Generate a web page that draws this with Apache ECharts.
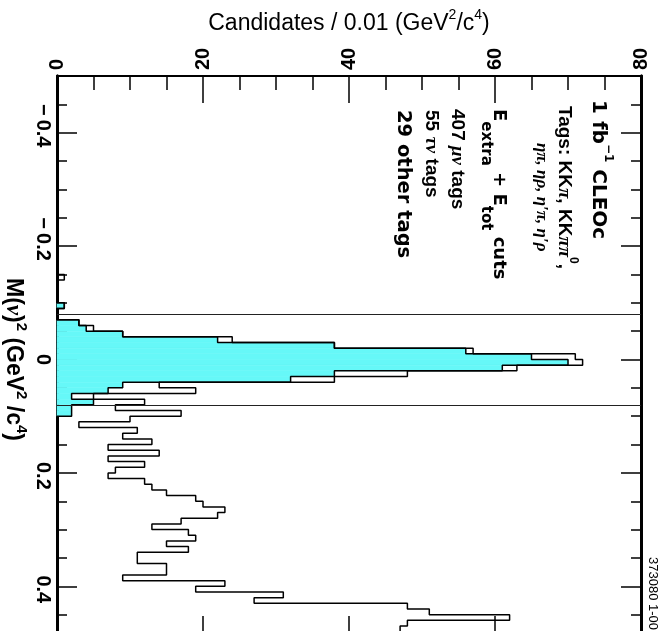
<!DOCTYPE html>
<html>
<head>
<meta charset="utf-8">
<title>M(ν)² distribution</title>
<script src="https://cdn.jsdelivr.net/npm/echarts@6.0.0/dist/echarts.min.js"></script>
<style>
  html, body { margin: 0; padding: 0; background: #fff; overflow: hidden; }
  #chart { width: 665px; height: 631px; }
</style>
</head>
<body>
<div id="chart"></div>
<script>
// Missing-mass-squared spectrum, 0.01 GeV^2/c^4 bins, starting at FIRST_BIN_EDGE.
const BIN_WIDTH = 0.01;
const FIRST_BIN_EDGE = -0.15;

// Candidates per bin, all tag modes (open histogram).
const allTagCounts = [
  1, 0, 0, 0, 0, 1, 0, 0,
  3, 5, 9, 24, 38, 57, 71, 72, 63, 48, 38, 14, 19, 5, 12, 8, 17, 10, 3,
  11, 9, 13, 7, 14, 7, 12, 8, 7, 12, 13, 15, 19, 20, 23, 22, 17, 13, 18,
  19, 15, 18, 11, 11, 15, 15, 9, 23, 19, 31, 27, 48, 51, 62, 48, 47
];

// Candidates per bin, mu-nu tags (filled histogram).
const muNuCounts = [
  0, 0, 0, 0, 0, 1, 0, 0,
  3, 4, 9, 22, 38, 56, 65, 70, 61, 38, 32, 9, 7, 2, 5, 2, 2
];

// Signal window on M(nu)^2.
const signalWindow = [-0.083, 0.083];

// Axis ranges and tick labels.
const candidateTicks = [0, 20, 40, 60, 80];
const massRange = [-0.5, 0.5];
const massTicks = [-0.4, -0.2, 0, 0.2, 0.4];
const massMinorStep = 0.05;

// Legend block, one entry per printed line.
const legendLines = [
  '1 fb{sup|\u22121} CLEOc',
  'Tags: KK{gk|\u03c0}, KK{gk|\u03c0\u03c0}{sup|0},',
  '{gk2|\u03b7\u03c0, \u03b7\u03c1, \u03b7\u2032\u03c0, \u03b7\u2032\u03c1}',
  'E{sub|extra} + E{sub|tot} cuts',
  '407 {gk|\u03bc\u03bd} tags',
  '55 {gk|\u03c4\u03bd} tags',
  '29 other tags'
];
const plotCode = '373080 1-00';

const F = '"Liberation Sans", Arial, Helvetica, sans-serif';
const W = '"DejaVu Sans", "Liberation Sans", sans-serif';
const G = '"Liberation Serif", "DejaVu Serif", serif';
const INK = '#000';
const CYAN = '#66f8f8';

function binLow(i) { return FIRST_BIN_EDGE + i * BIN_WIDTH; }

// Step outline of a histogram drawn along the vertical mass axis.
function stepOutline(counts) {
  const pts = [[0, binLow(0)]];
  counts.forEach(function (c, i) {
    pts.push([c, binLow(i)], [c, binLow(i) + BIN_WIDTH]);
  });
  pts.push([0, binLow(counts.length)]);
  return pts;
}

// Mass tick labels: the digits sit on the tick, a leading minus hangs before them.
function massLabel(v) {
  if (Math.abs(v) < 1e-9) return '{z|0}';
  const digits = Math.abs(v).toFixed(1);
  return v < 0 ? '{neg|\u2212\u2009' + digits + '}' : '{pos|' + digits + '}';
}

const tickLine = { color: INK, width: 1.5 };
const labelFont = { color: INK, fontFamily: F, fontSize: 20, fontWeight: 'bold' };

function candidateAxis(position, withLabels) {
  return {
    type: 'value', position: position,
    min: candidateTicks[0], max: candidateTicks[candidateTicks.length - 1],
    interval: candidateTicks[1] - candidateTicks[0],
    axisLine: { show: true, onZero: false, lineStyle: { color: INK, width: 2 } },
    axisTick: { show: true, inside: true, length: 27, lineStyle: tickLine },
    minorTick: { show: true, splitNumber: 4, length: position === 'top' ? 14 : 12, lineStyle: tickLine },
    splitLine: { show: false }, minorSplitLine: { show: false },
    axisLabel: Object.assign({ show: withLabels, rotate: -90, margin: 6 }, labelFont)
  };
}

function massAxis(position, major, withLabels) {
  const ax = {
    type: 'value', position: position, inverse: true,
    min: massRange[0], max: massRange[1],
    interval: major ? 0.1 : massMinorStep,
    axisLine: { show: true, onZero: false, lineStyle: { color: INK, width: 3 } },
    axisTick: { show: true, inside: true, length: major ? 20 : 10, lineStyle: tickLine },
    splitLine: { show: false },
    axisLabel: { show: false }
  };
  if (major) {
    ax.axisTick.customValues = massTicks;
    if (withLabels) {
      const tok = Object.assign({}, labelFont);
      ax.axisLabel = Object.assign({
        show: true, customValues: massTicks, rotate: -90, margin: 4, formatter: massLabel,
        rich: {
          z: tok,
          pos: Object.assign({ padding: [0, 0, 0, 6] }, tok),
          neg: Object.assign({ padding: [0, 14, 0, 0] }, tok)
        }
      }, labelFont);
    }
  }
  return ax;
}

const topAxis = candidateAxis('top', true);
topAxis.name = 'Candidates / 0.01 (GeV{sup|2}/c{sup|4})';
topAxis.nameLocation = 'middle';
topAxis.nameGap = 36;
topAxis.nameMoveOverlap = false;
topAxis.nameTextStyle = {
  color: INK, fontFamily: F, fontSize: 23, lineHeight: 32,
  rich: { sup: { color: INK, fontFamily: F, fontSize: 14, lineHeight: 15, verticalAlign: 'top' } }
};

const leftAxis = massAxis('left', true, true);
leftAxis.name = 'M({gk|\u03bd}){sup|2} (GeV{sup|2} /c{sup|4})';
leftAxis.nameLocation = 'middle';
leftAxis.nameRotate = -90;
leftAxis.nameGap = 28;
leftAxis.nameMoveOverlap = false;
leftAxis.nameTextStyle = {
  color: INK, fontFamily: F, fontSize: 23, fontWeight: 'bold', lineHeight: 32,
  rich: {
    sup: { color: INK, fontFamily: F, fontSize: 15, fontWeight: 'bold', lineHeight: 15, verticalAlign: 'top' },
    gk: { color: INK, fontFamily: G, fontSize: 23, fontStyle: 'italic', fontWeight: 'bold', lineHeight: 32 }
  }
};

// Legend text, rotated a quarter turn clockwise like the rest of the figure.
function legendRich(family, size, subSize) {
  return {
    sup: { fill: INK, fontFamily: family, fontSize: Math.round(size * 0.62), fontWeight: 'bold', lineHeight: 13, verticalAlign: 'top' },
    sub: { fill: INK, fontFamily: family, fontSize: subSize, fontWeight: 'bold', lineHeight: 16, verticalAlign: 'bottom' },
    gk: { fill: INK, fontFamily: G, fontSize: 19, fontStyle: 'italic', fontWeight: 'bold' },
    gk2: { fill: INK, fontFamily: G, fontSize: 17, fontStyle: 'italic', fontWeight: 'bold' }
  };
}
const legendPlacement = [
  { x: 598, y: 100, family: W, size: 20, sub: 16, lh: 32 },
  { x: 564, y: 106, family: F, size: 19, sub: 16, lh: 30 },
  { x: 541, y: 143, family: F, size: 19, sub: 16, lh: 24 },
  { x: 499, y: 109, family: W, size: 18, sub: 15, lh: 42 },
  { x: 457, y: 109, family: F, size: 19, sub: 16, lh: 24 },
  { x: 431, y: 110, family: F, size: 19, sub: 16, lh: 24 },
  { x: 403, y: 110, family: W, size: 19.5, sub: 16, lh: 26 }
];
const graphics = legendLines.map(function (txt, i) {
  const p = legendPlacement[i];
  return {
    type: 'text', x: p.x, y: p.y, rotation: -Math.PI / 2, z: 50,
    style: {
      text: txt, fill: INK, fontFamily: p.family, fontSize: p.size, fontWeight: 'bold',
      lineHeight: p.lh, align: 'left', verticalAlign: 'middle', rich: legendRich(p.family, p.size, p.sub)
    }
  };
});
graphics.push({
  type: 'text', x: 653, y: 557, rotation: -Math.PI / 2, z: 50,
  style: { text: plotCode, fill: INK, fontFamily: F, fontSize: 13, align: 'left', verticalAlign: 'middle' }
});

const option = {
  animation: false,
  backgroundColor: '#fff',
  tooltip: { show: false },
  grid: { left: 57, top: 76, width: 584, height: 567, containLabel: false, outerBoundsMode: 'none', show: false },
  xAxis: [topAxis, candidateAxis('bottom', false)],
  yAxis: [
    leftAxis,
    massAxis('left', false, false),
    massAxis('right', true, false),
    massAxis('right', false, false)
  ],
  graphic: graphics,
  series: [
    {
      type: 'custom', name: 'mu-nu tags fill', xAxisIndex: 0, yAxisIndex: 0,
      data: muNuCounts.map(function (c, i) { return [c, binLow(i)]; }),
      encode: { x: 0, y: 1 },
      renderItem: function (params, api) {
        const c = api.value(0), lo = api.value(1);
        if (!c) return null;
        const a = api.coord([0, lo]);
        const b = api.coord([c, lo + BIN_WIDTH]);
        return {
          type: 'rect',
          shape: { x: a[0], y: a[1], width: b[0] - a[0], height: b[1] - a[1] },
          style: { fill: CYAN, stroke: CYAN, lineWidth: 0.6 }
        };
      }
    },
    {
      type: 'line', name: 'mu-nu tags', xAxisIndex: 0, yAxisIndex: 0,
      data: stepOutline(muNuCounts), symbol: 'none', smooth: false,
      lineStyle: { color: INK, width: 1.5 }
    },
    {
      type: 'line', name: 'all tags', xAxisIndex: 0, yAxisIndex: 0,
      data: stepOutline(allTagCounts), symbol: 'none', smooth: false,
      lineStyle: { color: INK, width: 1.5 },
      markLine: {
        silent: true, symbol: 'none', label: { show: false },
        lineStyle: { color: '#222', width: 1.2, type: 'solid' },
        data: signalWindow.map(function (v) { return { yAxis: v }; })
      }
    }
  ]
};

const chart = echarts.init(document.getElementById('chart'));
chart.setOption(option);
</script>
</body>
</html>
